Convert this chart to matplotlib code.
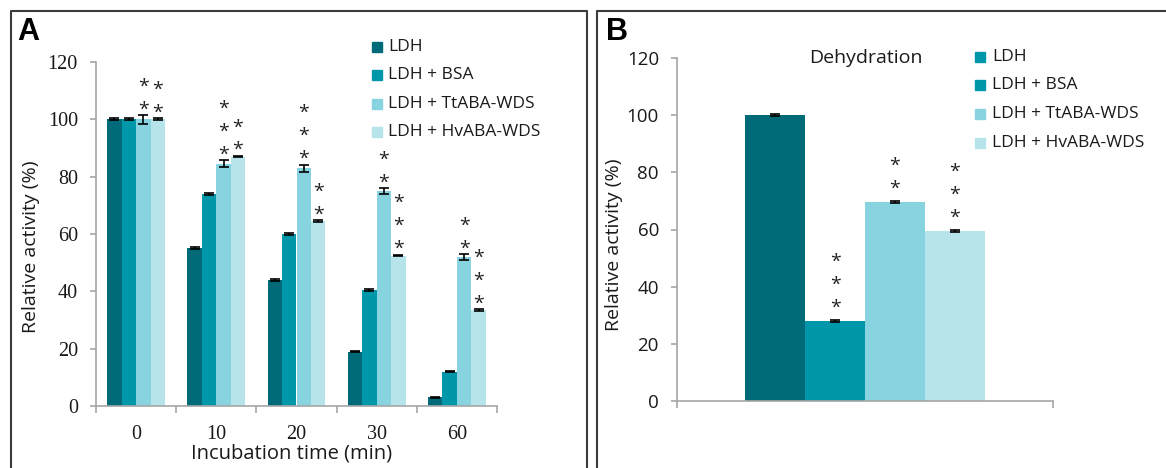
import numpy as np
import matplotlib.pyplot as plt
from matplotlib.patches import Rectangle
from matplotlib.lines import Line2D

W, H = 1166, 468

# ---- data ----
times = ["0", "10", "20", "30", "60"]
series = ["LDH", "LDH + BSA", "LDH + TtABA-WDS", "LDH + HvABA-WDS"]
colors = ["#006b78", "#0097ab", "#88d3e0", "#b7e3eb"]

ldh = [100, 55, 44, 19, 3]
bsa = [100, 74, 60, 40.5, 12]
ttaba = [100, 84.5, 83, 75, 52]
hvaba = [100, 87, 64.5, 52.5, 33.5]
ldh_err = [0.3, 0.3, 0.3, 0.3, 0.3]
bsa_err = [0.3, 0.3, 0.3, 0.3, 0.3]
ttaba_err = [1.5, 1.2, 1.2, 1.0, 1.0]
hvaba_err = [0.3, 0.3, 0.3, 0.3, 0.3]
ldh_stars = [0, 0, 0, 0, 0]
bsa_stars = [0, 0, 0, 0, 0]
ttaba_stars = [2, 3, 3, 2, 2]
hvaba_stars = [2, 2, 2, 3, 3]

dehyd = [100, 28, 69.5, 59.5]
dehyd_err = [0.3, 0.3, 0.3, 0.3]
dehyd_stars = [0, 3, 2, 3]
legend_b_colors = ["#0097ab", "#0097ab", "#88d3e0", "#b7e3eb"]

SANS = ["Open Sans", "DejaVu Sans"]
SERIF = ["Liberation Serif", "DejaVu Serif"]
AXC = "#a6a6a6"
TXT = "#1a1a1a"

fig = plt.figure(figsize=(W / 100, H / 100), dpi=100)


def fx(px):
    return px / W


def fy(py):
    return 1 - py / H


def style_axes(ax):
    for s in ["top", "right"]:
        ax.spines[s].set_visible(False)
    for s in ["left", "bottom"]:
        ax.spines[s].set_color(AXC)
        ax.spines[s].set_linewidth(1.2)
    ax.tick_params(axis="y", which="major", length=4, width=1.2, color=AXC, pad=9)
    ax.set_ylim(0, 120)
    ax.set_yticks(range(0, 121, 20))


def stars(ax, x, top, n, off):
    for i in range(n):
        ax.text(x, top + off + 8 * i, "*", ha="center", va="center",
                fontsize=14, family=SANS, color="#222222")


# ---- panel A ----
axA = fig.add_axes([fx(96), fy(406), fx(497) - fx(96), fy(62) - fy(406)])
style_axes(axA)
x = np.arange(len(times))
bw = 0.18
vals = [ldh, bsa, ttaba, hvaba]
errs = [ldh_err, bsa_err, ttaba_err, hvaba_err]
nstars = [ldh_stars, bsa_stars, ttaba_stars, hvaba_stars]
for k in range(4):
    xs = x + (k - 1.5) * bw
    axA.bar(xs, vals[k], bw, color=colors[k], edgecolor="none")
    axA.errorbar(xs, vals[k], yerr=errs[k], fmt="none", ecolor="black",
                 elinewidth=1.2, capsize=3.5, capthick=1.2)
    for j in range(len(times)):
        stars(axA, xs[j], vals[k][j] + errs[k][j], nstars[k][j], 1.9)
axA.set_xlim(-0.5, len(times) - 0.5)
axA.set_xticks(x)
axA.set_xticklabels(times)
axA.set_xticks(np.arange(-0.5, len(times)), minor=True)
axA.tick_params(axis="x", which="major", length=0, pad=14)
axA.tick_params(axis="x", which="minor", length=5, width=1.2, color=AXC)
for lab in axA.get_xticklabels() + axA.get_yticklabels():
    lab.set_family(SERIF)
    lab.set_fontsize(14.5)
    lab.set_color(TXT)
fig.text(fx(292), fy(453), "Incubation time (min)", ha="center", va="center",
         fontsize=14.5, family=SANS, color=TXT)
fig.text(fx(31), fy(247), "Relative activity (%)", ha="center", va="center",
         rotation=90, fontsize=14, family=SANS, color=TXT)

# ---- panel B ----
axB = fig.add_axes([fx(677), fy(401), fx(1053) - fx(677), fy(58) - fy(401)])
style_axes(axB)
bwB = 0.159
for k in range(4):
    xb = (k - 1.5) * bwB
    axB.bar(xb, dehyd[k], bwB, color=colors[k], edgecolor="none")
    axB.errorbar(xb, dehyd[k], yerr=dehyd_err[k], fmt="none", ecolor="black",
                 elinewidth=1.2, capsize=3.5, capthick=1.2)
    stars(axB, xb, dehyd[k] + dehyd_err[k], dehyd_stars[k], 4.3)
axB.set_xlim(-0.5, 0.5)
axB.set_xticks([-0.5, 0.5])
axB.set_xticklabels([])
axB.tick_params(axis="x", length=5, width=1.2, color=AXC)
for lab in axB.get_yticklabels():
    lab.set_family(SANS)
    lab.set_fontsize(13.5)
    lab.set_color(TXT)
fig.text(fx(866), fy(58), "Dehydration", ha="center", va="center",
         fontsize=14, family=SANS, color=TXT)
fig.text(fx(614), fy(245), "Relative activity (%)", ha="center", va="center",
         rotation=90, fontsize=14, family=SANS, color=TXT)

# ---- legends ----
def legend(x_sq, x_txt, ys, cols):
    for lab, c, yy in zip(series, cols, ys):
        fig.patches.append(Rectangle((fx(x_sq), fy(yy + 5)), fx(10), 10 / H,
                                     transform=fig.transFigure, color=c))
        fig.text(fx(x_txt), fy(yy), lab, ha="left", va="center",
                 fontsize=12.5, family=SANS, color=TXT)


legend(372, 388, [47, 75, 104, 132], colors)
legend(975, 992, [57, 85, 114, 143], legend_b_colors)

# ---- panel letters and frames ----
fig.text(fx(17), fy(32), "A", ha="left", va="center", fontsize=22,
         fontweight="bold", family=["Liberation Sans", "DejaVu Sans"])
fig.text(fx(606), fy(32), "B", ha="left", va="center", fontsize=22,
         fontweight="bold", family=["Liberation Sans", "DejaVu Sans"])
fc = "#3a3a3a"
for xs_, ys_ in [([11, 11, 587, 587], [480, 11, 11, 480]),
                 ([597, 597, 1180], [480, 11, 11])]:
    fig.lines.append(Line2D([fx(v) for v in xs_], [fy(v) for v in ys_],
                            transform=fig.transFigure, color=fc, lw=1.5))

fig.savefig("out.png", dpi=100)
